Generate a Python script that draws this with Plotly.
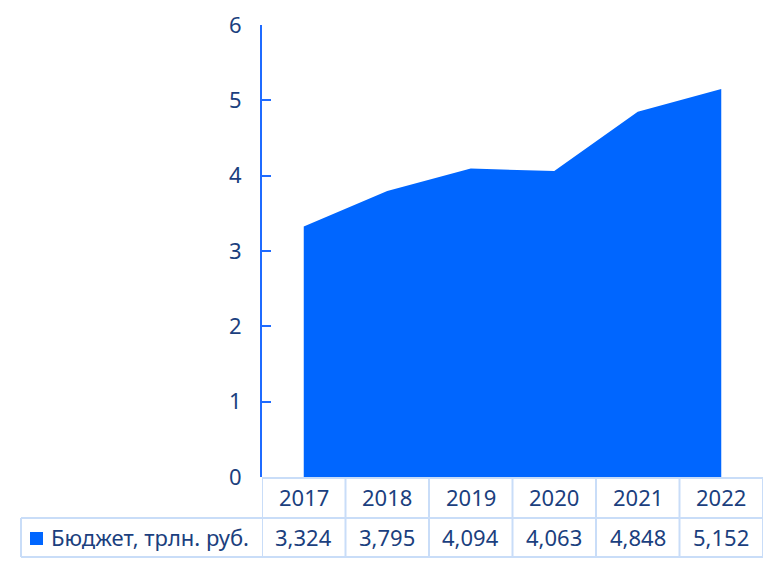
import plotly.graph_objects as go

years = ["2017", "2018", "2019", "2020", "2021", "2022"]
budget = [3.324, 3.795, 4.094, 4.063, 4.848, 5.152]
series_name = "Бюджет, трлн. руб."
y_ticks = [0, 1, 2, 3, 4, 5, 6]

AREA = "#0066FF"
TEXT = "#1B3F7E"
AXIS = "#1F6BFF"
GRID = "#C9DDF8"
FONT = "Noto Sans"
FS = 22

OFF = 8  # page body margin
W, H = 775 - OFF, 562 - OFF
L = 262 - OFF
T = 25 - OFF
R = W - (763 - OFF)
B = H - (477 - OFF)
pw, ph = W - L - R, H - T - B

def py(pix):  # screen pixel y -> paper y
    return (477 - pix) / ph

def px(pix):  # screen pixel x -> paper x
    return (pix - 262) / pw

xs = list(range(len(years)))

fig = go.Figure()
fig.add_trace(go.Scatter(
    x=xs, y=budget, mode="lines", fill="tozeroy",
    fillcolor=AREA, line=dict(width=0, color=AREA), hoverinfo="skip",
    showlegend=False,
))

shapes = []
row1_bot = py(518)
row2_bot = py(557)
shapes.append(dict(type="line", xref="paper", yref="paper", x0=0, x1=1, y0=py(478), y1=py(478),
                   line=dict(color=GRID, width=2)))
shapes.append(dict(type="line", xref="paper", yref="paper", x0=px(21), x1=1, y0=row1_bot, y1=row1_bot,
                   line=dict(color=GRID, width=2)))
shapes.append(dict(type="line", xref="paper", yref="paper", x0=px(21), x1=1, y0=row2_bot, y1=row2_bot,
                   line=dict(color=GRID, width=2)))
shapes.append(dict(type="line", xref="paper", yref="paper", x0=px(21), x1=px(21), y0=row1_bot, y1=row2_bot,
                   line=dict(color=GRID, width=2)))
for i in range(len(years) + 1):
    xb = i - 0.5
    shapes.append(dict(type="line", xref="x", yref="paper", x0=xb, x1=xb, y0=py(478), y1=row2_bot,
                       line=dict(color=GRID, width=2)))
shapes.append(dict(type="rect", xref="paper", yref="paper", x0=px(30), x1=px(43),
                   y0=py(545), y1=py(532), fillcolor=AREA, line=dict(width=0)))

annotations = []
for i, (yr, v) in enumerate(zip(years, budget)):
    annotations.append(dict(x=i, y=py(497), xref="x", yref="paper", text=yr,
                            xanchor="center", yanchor="middle",
                            showarrow=False, font=dict(family=FONT, size=FS, color=TEXT)))
    annotations.append(dict(x=i, y=py(537), xref="x", yref="paper",
                            text=f"{v:.3f}".replace(".", ","),
                            xanchor="center", yanchor="middle",
                            showarrow=False, font=dict(family=FONT, size=FS, color=TEXT)))
annotations.append(dict(x=px(49), y=py(537), xref="paper", yref="paper",
                        text=series_name, xanchor="left", yanchor="middle", showarrow=False,
                        font=dict(family=FONT, size=FS, color=TEXT)))

fig.update_layout(
    width=W, height=H,
    margin=dict(l=L, r=R, t=T, b=B, autoexpand=False),
    paper_bgcolor="white", plot_bgcolor="white",
    xaxis=dict(range=[-0.5, len(years) - 0.5], showgrid=False, zeroline=False,
               showticklabels=False, showline=False, ticks=""),
    yaxis=dict(range=[0, 6], tickvals=y_ticks, showgrid=False, zeroline=False,
               showline=True, linecolor=AXIS, linewidth=2,
               ticks="inside", ticklen=9, tickwidth=2, tickcolor=AXIS,
               ticklabelstandoff=14,
               tickfont=dict(family=FONT, size=22, color=TEXT)),
    shapes=shapes, annotations=annotations,
    showlegend=False,
)

fig.write_html("out.html")
